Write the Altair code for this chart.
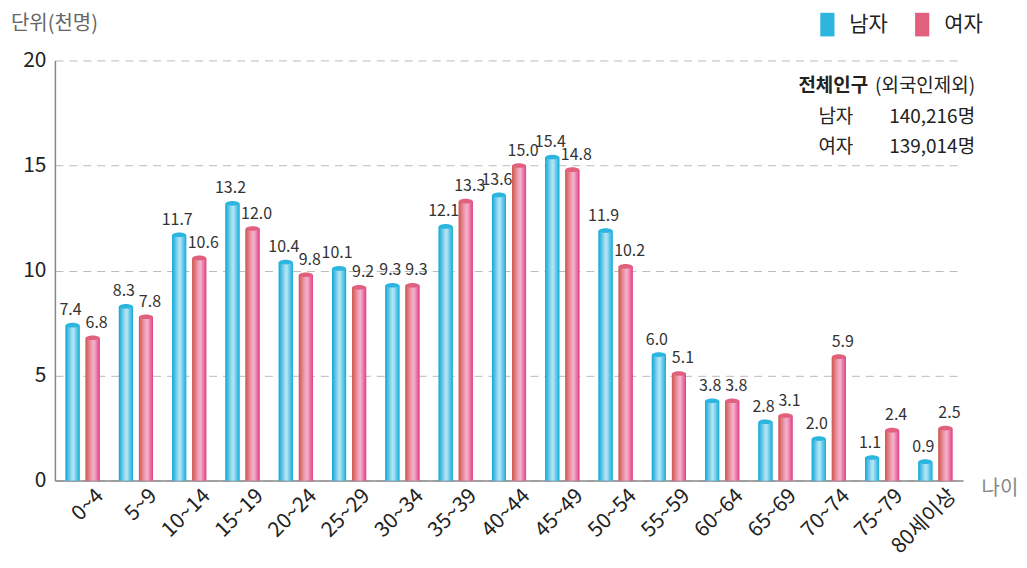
import altair as alt
import pandas as pd

ages = ["0~4", "5~9", "10~14", "15~19", "20~24", "25~29", "30~34", "35~39",
        "40~44", "45~49", "50~54", "55~59", "60~64", "65~69", "70~74", "75~79", "80세이상"]
male = [7.4, 8.3, 11.7, 13.2, 10.4, 10.1, 9.3, 12.1, 13.6, 15.4, 11.9, 6.0, 3.8, 2.8, 2.0, 1.1, 0.9]
female = [6.8, 7.8, 10.6, 12.0, 9.8, 9.2, 9.3, 13.3, 15.0, 14.8, 10.2, 5.1, 3.8, 3.1, 5.9, 2.4, 2.5]
sexes = ["남자", "여자"]

rows = []
for a, m, f in zip(ages, male, female):
    rows.append({"age": a, "sex": "남자", "v": m, "lbl": f"{m:.1f}"})
    rows.append({"age": a, "sex": "여자", "v": f, "lbl": f"{f:.1f}"})
df = pd.DataFrame(rows)

FONT = "Noto Sans CJK KR"
NUMFONT = "Liberation Sans Narrow, Noto Sans CJK KR"

x_enc = alt.X("age:N", sort=ages,
              scale=alt.Scale(paddingInner=0.36, paddingOuter=0.2),
              axis=alt.Axis(title="나이", titleX=928, titleY=8, titleAlign="left",
                            titleBaseline="middle", titleFontSize=20, titleFontWeight="normal",
                            titleColor="#888", titleFont=FONT,
                            labelAngle=-45, labelAlign="right", labelBaseline="top",
                            labelFontSize=21, labelColor="#222", labelFont=FONT,
                            labelOffset=10, labelPadding=4,
                            ticks=False, domainColor="#888", domainWidth=1.5, grid=False))
xo_enc = alt.XOffset("sex:N", sort=sexes, scale=alt.Scale(domain=sexes, paddingInner=0.3))
y_enc = alt.Y("v:Q", scale=alt.Scale(domain=[0, 20]),
              axis=alt.Axis(values=[0, 5, 10, 15, 20], title=None,
                            labelFontSize=21, labelColor="#222", labelFont=FONT, labelPadding=9,
                            ticks=False, domainColor="#888", domainWidth=1.5,
                            grid=True, gridColor="#bbb", gridDash=[8, 6], gridWidth=1))

base = alt.Chart(df)

bars = base.mark_bar().encode(
    x=x_enc, xOffset=xo_enc, y=y_enc,
    color=alt.Color("sex:N", sort=sexes,
                    scale=alt.Scale(domain=sexes, range=["#2cb6df", "#e0607e"]),
                    legend=alt.Legend(title=None, orient="none", legendX=762, legendY=-48,
                                      direction="horizontal", labelFontSize=21,
                                      labelColor="#222", labelFont=FONT,
                                      symbolType="M-0.6,-1 H0.6 V1 H-0.6 Z",
                                      symbolSize=560, symbolStrokeWidth=0,
                                      columnPadding=22, labelOffset=10))
)

blue_grad = alt.Gradient(gradient="linear", x1=0, x2=1, y1=0, y2=0, stops=[
    alt.GradientStop(offset=0, color="#0fa8d6"),
    alt.GradientStop(offset=0.4, color="#95d8f0"),
    alt.GradientStop(offset=0.55, color="#b8e7f6"),
    alt.GradientStop(offset=1, color="#16acda")])
pink_grad = alt.Gradient(gradient="linear", x1=0, x2=1, y1=0, y2=0, stops=[
    alt.GradientStop(offset=0, color="#cf5848"),
    alt.GradientStop(offset=0.45, color="#f2a2bf"),
    alt.GradientStop(offset=0.6, color="#f4b2ca"),
    alt.GradientStop(offset=1, color="#e03e88")])

over_m = base.transform_filter(alt.datum.sex == "남자").mark_bar(color=blue_grad).encode(
    x=x_enc, xOffset=xo_enc, y=y_enc)
over_f = base.transform_filter(alt.datum.sex == "여자").mark_bar(color=pink_grad).encode(
    x=x_enc, xOffset=xo_enc, y=y_enc)

ellipse = "M-1,0 A1,0.35 0 1,1 1,0 A1,0.35 0 1,1 -1,0 Z"
caps = base.mark_point(shape=ellipse, filled=True, opacity=1, size=180).encode(
    x=x_enc, xOffset=xo_enc, y=y_enc,
    color=alt.Color("sex:N", sort=sexes,
                    scale=alt.Scale(domain=sexes, range=["#2cb6df", "#e0607e"]), legend=None))

lab_m = base.transform_filter(alt.datum.sex == "남자").mark_text(
    dy=-15, dx=-2, fontSize=16, color="#333", font=NUMFONT).encode(
    x=x_enc, xOffset=xo_enc, y=y_enc, text="lbl:N")
lab_f = base.transform_filter(alt.datum.sex == "여자").mark_text(
    dy=-15, dx=4, fontSize=16, color="#333", font=NUMFONT).encode(
    x=x_enc, xOffset=xo_enc, y=y_enc, text="lbl:N")


def note(txt, xpx, ypx, align, bold=False, color="#222", size=19):
    return alt.Chart(pd.DataFrame({"t": [txt]})).mark_text(
        align=align, baseline="middle", fontSize=size, color=color, font=FONT,
        fontWeight="bold" if bold else "normal").encode(
        x=alt.value(xpx), y=alt.value(ypx), text="t:N")


unit = note("단위(천명)", -44, -37, "left", color="#666", size=20)

notes = (note("전체인구", 745, 26, "left", True) + note("(외국인제외)", 922, 26, "right")
         + note("남자", 765, 57, "left") + note("140,216명", 922, 57, "right")
         + note("여자", 765, 87, "left") + note("139,014명", 922, 87, "right"))

chart = alt.layer(bars, over_m, over_f, caps, lab_m, lab_f, notes, unit).properties(
    width=910, height=421,
    autosize=alt.AutoSizeParams(type="none"),
    padding={"left": 47, "top": 52, "right": 56, "bottom": 80},
).configure_view(stroke=None)

chart.save("out.html", embed_options={"renderer": "svg", "actions": False})
